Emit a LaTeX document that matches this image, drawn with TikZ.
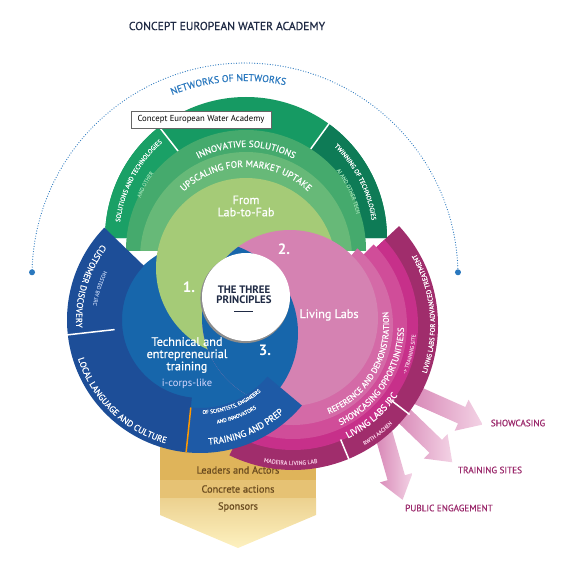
\documentclass[tikz,border=0pt]{standalone}
\usepackage{fontspec}
\setmainfont{PT Sans}
\newfontfamily\medfont{PT Sans}[FakeBold=0.7]
\usetikzlibrary{decorations.text}

\definecolor{navy}{HTML}{1F2A44}
\definecolor{netblue}{HTML}{2A78BE}
\definecolor{gtop}{HTML}{169A63}
\definecolor{gleft}{HTML}{1AA066}
\definecolor{gright}{HTML}{0E7B56}
\definecolor{gbandA}{HTML}{45AA6D}
\definecolor{gbandB}{HTML}{67B978}
\definecolor{glight}{HTML}{A5CB77}
\definecolor{gpale}{HTML}{8ED6A8}
\definecolor{bring}{HTML}{1D4E98}
\definecolor{btrain}{HTML}{1E5AA6}
\definecolor{bdisc}{HTML}{1766AB}
\definecolor{bpale}{HTML}{9DB6E0}
\definecolor{pring}{HTML}{A02D6C}
\definecolor{pjrc}{HTML}{C7308A}
\definecolor{pshow}{HTML}{D04D99}
\definecolor{pref}{HTML}{D46AA7}
\definecolor{pdisc}{HTML}{D582B2}
\definecolor{ppale}{HTML}{EDB9D6}
\definecolor{plabel}{HTML}{9B2A6C}
\definecolor{yA}{HTML}{DFB45A}
\definecolor{yB}{HTML}{E6C274}
\definecolor{yC}{HTML}{ECD18F}
\definecolor{yD}{HTML}{FDF1C0}
\definecolor{ytext}{HTML}{6A4B1F}
\definecolor{arrA}{HTML}{D47DB0}
\definecolor{arrB}{HTML}{F3D3E5}

\newcommand{\fsz}[1]{\fontsize{#1}{#1}\selectfont}

\tikzset{
  ringtext/.style n args={3}{decorate,
    decoration={text along path, text align=center, text color=#2,
      text={|\medfont\fsz{#1}|#3}}},
  bigarrow/.style={left color=arrA, right color=arrB, draw=none},
  arrlabel/.style={font=\medfont\fsz{9.2}, text=plabel},
  sep/.style={white, line width=1.5pt},
}

\begin{document}
\begin{tikzpicture}[x=1pt, y=-1pt]
\useasboundingbox (0,0) rectangle (567,569);

% centres
\coordinate (net) at (245,276);
\coordinate (gr) at (246,238);
\coordinate (gb1) at (246,250);
\coordinate (gb2) at (246,258);
\coordinate (gd) at (246,268);
\coordinate (br) at (200,320);
\coordinate (bd) at (206,333);
\coordinate (pr) at (293,325);
\coordinate (pd) at (290,318);
\coordinate (mid) at (246,297);

\node[font=\medfont\fsz{11.6}, text=navy] (title) at (227,26) {CONCEPT EUROPEAN WATER ACADEMY};

% networks arc
\draw[netblue, line width=1.2pt, dash pattern=on 0pt off 2.6pt, line cap=round]
  (net) ++(181:213) arc[start angle=181, end angle=359, radius=213];
\fill[netblue] (net) ++(181:213) circle[radius=3];
\fill[netblue] (net) ++(359:213) circle[radius=3];
\path[ringtext={9.8}{netblue}{NETWORKS OF NETWORKS}] (net) ++(225:195) arc[start angle=225, end angle=305, radius=195];

% yellow arrow
\fill[yA] (160,420) rectangle (316,480);
\fill[yB] (160,480) rectangle (316,498);
\shade[top color=yC, bottom color=yD] (160,498) -- (316,498) -- (316,515) -- (238,548) -- (160,515) -- cycle;
\node[font=\medfont\fsz{10.3}, text=ytext] (leaders) at (238,470) {Leaders and Actors};
\node[font=\medfont\fsz{10.3}, text=ytext] (concrete) at (238,489) {Concrete actions};
\node[font=\medfont\fsz{10.3}, text=ytext] (sponsors) at (238,507) {Sponsors};

% pink arrows
\begin{scope}[shift={(405,390)}, rotate=-24]
  \shade[bigarrow] (0,-9) -- (62,-9) -- (62,-17) -- (85,0) -- (62,17) -- (62,9) -- (0,9) -- cycle;
\end{scope}
\begin{scope}[shift={(394,406)}, rotate=-44]
  \shade[bigarrow] (0,-9) -- (58,-9) -- (58,-17) -- (81,0) -- (58,17) -- (58,9) -- (0,9) -- cycle;
\end{scope}
\begin{scope}[shift={(380,421)}, rotate=-74]
  \shade[bigarrow] (0,-9) -- (59,-9) -- (59,-17) -- (82,0) -- (59,17) -- (59,9) -- (0,9) -- cycle;
\end{scope}
\node[arrlabel] (showcasing) at (518,423) {SHOWCASING};
\node[arrlabel] (sites) at (490,470) {TRAINING SITES};
\node[arrlabel] (public) at (449,508) {PUBLIC ENGAGEMENT};

% green lobe
\fill[gtop] (gr) -- ++(180:141) arc[start angle=180, end angle=360, radius=141] -- cycle;
\fill[gleft] (gr) -- ++(180:141) arc[start angle=180, end angle=232, radius=141] -- cycle;
\fill[gright] (gr) -- ++(306:141) arc[start angle=306, end angle=360, radius=141] -- cycle;
\draw[sep] (gr) ++(232:104) -- ++(232:38);
\draw[sep] (gr) ++(306:104) -- ++(306:38);
\begin{scope}
  \clip (0,0) rectangle (567,250);
  \fill[gbandA] (gb1) circle[radius=120];
  \fill[gbandB] (gb2) circle[radius=106];
\end{scope}

% pink lobe rings
\fill[pring] (pr) -- ++(-43:145) arc[start angle=-43, end angle=116, radius=145] -- cycle;
\fill[pjrc] (pr) -- ++(-43:125) arc[start angle=-43, end angle=116, radius=125] -- cycle;
\fill[pshow] (pr) -- ++(-45:114) arc[start angle=-45, end angle=116, radius=114] -- cycle;
\fill[pref] (pr) -- ++(-50:100) arc[start angle=-50, end angle=116, radius=100] -- cycle;
\draw[sep] (pr) ++(37.5:124) -- ++(37.5:23);
\draw[sep] (pr) ++(67.4:124) -- ++(67.4:23);

% three discs, each one over the next
\fill[bdisc] (bd) circle[radius=92];
\fill[glight] (gd) circle[radius=90];
\fill[pdisc] (pd) circle[radius=88];
\begin{scope}
  \clip (pd) circle[radius=88];
  \fill[bdisc] (bd) circle[radius=92];
\end{scope}

% blue ring
\fill[bring] (br) ++(224:133) arc[start angle=224, end angle=96, radius=133]
  -- ++(276:55) arc[start angle=96, end angle=224, radius=78] -- cycle;
\fill[btrain] (br) ++(96:133) arc[start angle=96, end angle=40, radius=133]
  -- ++(220:45) arc[start angle=40, end angle=96, radius=88] -- cycle;
\draw[sep] (br) ++(173.6:86) -- ++(173.6:48);
\draw[orange!80!yellow, line width=1.5pt] (br) ++(96:88) -- ++(96:45);

% centre
\fill[black!45] (245,298.5) circle[radius=44.6];
\fill[white] (mid) circle[radius=44];
\node[font=\bfseries\fsz{10.8}, text=navy, align=center] (principles) at (244,295) {THE THREE\\[-1pt]PRINCIPLES};
\draw[navy, line width=0.8pt] (234,311) -- (253,311);
\node[font=\bfseries\fsz{15}, text=white] (one) at (189,287) {1.};
\node[font=\bfseries\fsz{15}, text=white] (two) at (284,249) {2.};
\node[font=\bfseries\fsz{15}, text=white] (three) at (265,350) {3.};

% disc labels
\node[font=\medfont\fsz{12.2}, text=white, align=center] (labfab) at (246,206) {From\\Lab-to-Fab};
\node[font=\medfont\fsz{12.2}, text=white] (living) at (329,315) {Living Labs};
\node[font=\medfont\fsz{12.2}, text=white, align=center] (technical) at (187,355) {Technical and\\entrepreneurial\\training};
\node[font=\fsz{10.5}, text=white!85!blue] (icorps) at (187,384) {i-corps-like};

% box
\node[draw=black!60, fill=white, minimum width=140, minimum height=17, inner sep=1pt, font=\fsz{8.7}] (academy) at (201,119.5) {Concept European Water Academy};

% ring texts, green
\path[ringtext={9.2}{white}{INNOVATIVE SOLUTIONS}] (gb1) ++(200:103) arc[start angle=200, end angle=340, radius=103];
\path[ringtext={9.3}{white}{UPSCALING FOR MARKET UPTAKE}] (gb2) ++(192:91) arc[start angle=192, end angle=348, radius=91];
\path[ringtext={6.4}{white}{SOLUTIONS AND TECHNOLOGIES}] (gr) ++(180:127) arc[start angle=180, end angle=236, radius=127];
\path[ringtext={5.4}{gpale}{AND OTHER}] (gr) ++(190:113) arc[start angle=190, end angle=226, radius=113];
\path[ringtext={6.4}{white}{TWINNING OF TECHNOLOGIES}] (gr) ++(304:127) arc[start angle=304, end angle=362, radius=127];
\path[ringtext={5.4}{gpale}{AI AND OTHER TECH}] (gr) ++(314:113) arc[start angle=314, end angle=357, radius=113];

% ring texts, blue
\path[ringtext={8.8}{white}{CUSTOMER DISCOVERY}] (br) ++(224:124) arc[start angle=224, end angle=170, radius=124];
\path[ringtext={5.4}{bpale}{HOSTED BY JRC}] (br) ++(215:108) arc[start angle=215, end angle=180, radius=108];
\path[ringtext={8.8}{white}{LOCAL LANGUAGE AND CULTURE}] (br) ++(174:128) arc[start angle=174, end angle=94, radius=128];
\path[ringtext={9.3}{white}{TRAINING AND PREP}] (br) ++(92:125) arc[start angle=92, end angle=42, radius=125];
\path[ringtext={5.3}{white}{OF SCIENTISTS, ENGINEERS}] (br) ++(94:94) arc[start angle=94, end angle=44, radius=94];
\path[ringtext={5.3}{white}{AND INNOVATORS}] (br) ++(88:105) arc[start angle=88, end angle=50, radius=105];

% ring texts, pink
\path[ringtext={8.3}{white}{REFERENCE AND DEMONSTRATION}] (pr) ++(88:96) arc[start angle=88, end angle=-28, radius=96];
\path[ringtext={8.8}{white}{SHOWCASING OPPORTUNITIESS}] (pr) ++(82:111) arc[start angle=82, end angle=-16, radius=111];
\path[ringtext={9.3}{white}{LIVING LABS JRC}] (pr) ++(68:126) arc[start angle=68, end angle=30, radius=126];
\path[ringtext={5.4}{ppale}{-> TRAINING SITE}] (pr) ++(29:123) arc[start angle=29, end angle=-1, radius=123];
\path[ringtext={6.8}{white}{LIVING LABS FOR ADVANCED TREATMENT}] (pr) ++(30:142) arc[start angle=30, end angle=-40, radius=142];
\path[ringtext={5.4}{ppale}{RWTH AACHEN}] (pr) ++(65:140) arc[start angle=65, end angle=39, radius=140];
\path[ringtext={5.9}{ppale}{MADEIRA LIVING LAB}] (pr) ++(113:140) arc[start angle=113, end angle=69, radius=140];
\end{tikzpicture}
\end{document}
